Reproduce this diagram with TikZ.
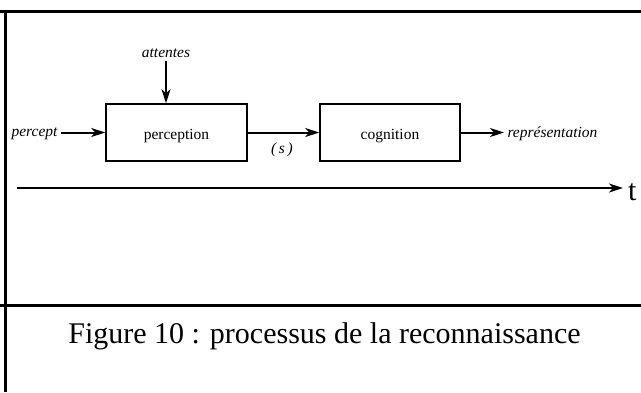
\documentclass[tikz,border=0pt]{standalone}
\usepackage{fontspec}
\setmainfont{Liberation Serif}
\usetikzlibrary{arrows.meta}

\begin{document}
\begin{tikzpicture}[x=1pt,y=-1pt,
  bloc/.style={draw,line width=1.6pt,minimum width=141pt,minimum height=57pt,
    font=\fontsize{15.5}{18}\selectfont},
  lbl/.style={font=\fontsize{15.5}{18}\selectfont\itshape},
  fleche/.style={line width=2pt,-{Stealth[length=14pt,width=9pt,inset=4pt]}}]
\useasboundingbox (0,0) rectangle (641,392);
% cadre
\draw[line width=3pt](0,11)--(641,11);
\draw[line width=3pt](5.5,11)--(5.5,392);
\draw[line width=3pt](0,305)--(641,305);
% blocs
\node[bloc] (perception) at (176.5,132.5) {\raisebox{-6.5pt}[0pt][0pt]{perception}};
\node[bloc,minimum width=140pt] (cognition) at (390,132.5) {\raisebox{-6.5pt}[0pt][0pt]{cognition}};
\node[lbl,anchor=east] (percept) at (61,134) {percept};
\node[lbl] (attentes) at (166,53) {attentes};
\node[lbl] (s) at (282,150) {(\,s\,)};
\node[lbl,anchor=west] (repres) at (504,134) {représentation};
\draw[fleche](percept.east |- perception)--(perception.west);
\draw[fleche](attentes.south)--(attentes.south |- perception.north);
\draw[fleche](perception.east)--(cognition.west);
\draw[fleche](cognition.east)--(repres.west |- cognition);
% axe du temps
\coordinate (t0) at (17,188);
\node[font=\fontsize{30}{32}\selectfont,anchor=base west,inner sep=0pt] (t) at (628,200) {t};
\draw[fleche,shorten >=5pt](t0)--(t0 -| t.west);
% legende
\node[font=\fontsize{30}{34}\selectfont,anchor=base] (legende) at (324.5,343)
  {Figure 10 : processus de la reconnaissance};
\end{tikzpicture}
\end{document}
